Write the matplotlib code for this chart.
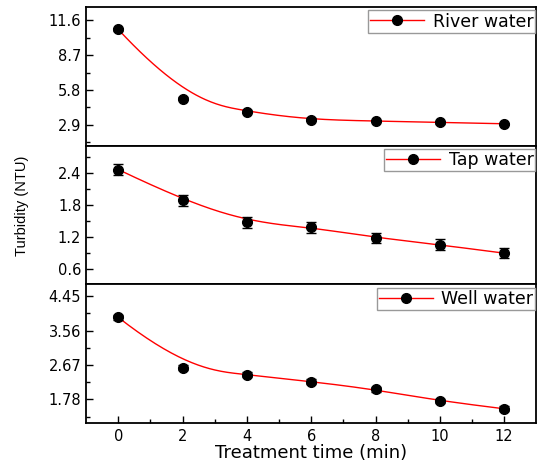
import numpy as np
import matplotlib
matplotlib.use("Agg")
import matplotlib.pyplot as plt
from matplotlib.lines import Line2D

plt.rcParams['font.family'] = ['DejaVu Sans']

# --- data ---
time = [0, 2, 4, 6, 8, 10, 12]

river = [10.85, 5.08, 3.97, 3.32, 3.21, 3.09, 2.98]
river_err = [0.15, 0.12, 0.12, 0.1, 0.1, 0.1, 0.1]

tap = [2.47, 1.89, 1.47, 1.38, 1.18, 1.05, 0.89]
tap_err = [0.1, 0.1, 0.1, 0.1, 0.1, 0.1, 0.1]

well = [3.90, 2.60, 2.42, 2.24, 2.04, 1.74, 1.54]
well_err = [0.06, 0.06, 0.07, 0.06, 0.06, 0.06, 0.06]

names = ["River water", "Tap water", "Well water"]
yticks = [[2.9, 5.8, 8.7, 11.6], [0.6, 1.2, 1.8, 2.4], [1.78, 2.67, 3.56, 4.45]]
ylims = [(1.15, 12.72), (0.53, 2.92), (1.17, 4.75)]
tick_fmt = ["%.1f", "%.1f", "%.2f"]


def bspline(x, y, k=3, num=300):
    # clamped cubic B-spline using the data points as control points
    P = np.column_stack([x, y]).astype(float)
    n = len(P)
    knots = np.concatenate([np.zeros(k), np.arange(n - k + 1), np.full(k, n - k)]).astype(float)
    u = np.linspace(0, n - k, num)
    u[-1] -= 1e-9

    def basis(i, d, t):
        if d == 0:
            return ((knots[i] <= t) & (t < knots[i + 1])).astype(float)
        a = np.zeros_like(t)
        b = np.zeros_like(t)
        if knots[i + d] != knots[i]:
            a = (t - knots[i]) / (knots[i + d] - knots[i]) * basis(i, d - 1, t)
        if knots[i + d + 1] != knots[i + 1]:
            b = (knots[i + d + 1] - t) / (knots[i + d + 1] - knots[i + 1]) * basis(i + 1, d - 1, t)
        return a + b

    B = np.column_stack([basis(i, k, u) for i in range(n)])
    C = B @ P
    return C[:, 0], C[:, 1]


fig = plt.figure(figsize=(5.38, 4.67), dpi=100)
gs = fig.add_gridspec(3, 1, left=0.160, right=0.997, top=0.985, bottom=0.094, hspace=0)
axes = [fig.add_subplot(gs[i]) for i in range(3)]

series = [(river, river_err), (tap, tap_err), (well, well_err)]
for i, ax in enumerate(axes):
    vals, errs = series[i]
    xs, ys = bspline(time, vals)
    ax.plot(xs, ys, color='red', lw=1.0, zorder=2)
    ax.errorbar(time, vals, yerr=errs, fmt='o', color='black', ms=7,
                capsize=3.5, elinewidth=1, capthick=1, zorder=3)

    ax.set_xlim(-1, 13)
    ax.set_ylim(*ylims[i])
    ax.set_yticks(yticks[i])
    ax.set_yticklabels([tick_fmt[i] % v for v in yticks[i]])
    step = yticks[i][1] - yticks[i][0]
    ax.set_yticks(np.arange(yticks[i][0] - step / 2, ylims[i][1], step), minor=True)
    ax.tick_params(axis='y', which='major', direction='in', length=5, width=1,
                   labelsize=10.5, right=False)
    ax.tick_params(axis='y', which='minor', direction='in', length=3, width=1, right=False)
    for s in ax.spines.values():
        s.set_linewidth(1.3)

    h = Line2D([], [], color='red', lw=1, marker='o', mfc='black', mec='black', ms=7)
    leg = ax.legend([h], [names[i]], loc='upper right', bbox_to_anchor=(0.998, 0.975),
                    borderaxespad=0, fancybox=False, framealpha=1, edgecolor='#999999',
                    fontsize=12.5, handlelength=3.1, borderpad=0.12,
                    handletextpad=0.5)
    leg.get_frame().set_linewidth(1.0)

    if i < 2:
        ax.tick_params(axis='x', which='both', bottom=False, top=False, labelbottom=False)
    else:
        ax.set_xticks(range(0, 13, 2))
        ax.set_xticks(range(1, 13, 2), minor=True)
        ax.tick_params(axis='x', which='major', direction='in', length=5, width=1,
                       labelsize=10.5, top=False, pad=4)
        ax.tick_params(axis='x', which='minor', direction='in', length=3, width=1, top=False)
        ax.set_xlabel("Treatment time (min)", fontsize=13, labelpad=0)

fig.text(0.040, 0.559, "Turbidity (NTU)", rotation=90, ha='center', va='center',
         fontsize=10.5, family='Liberation Sans')

fig.savefig("out.png", dpi=100)
